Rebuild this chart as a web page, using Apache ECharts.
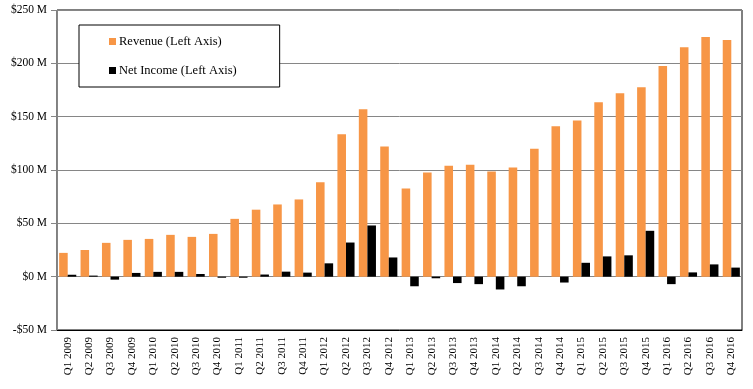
<!DOCTYPE html>
<html><head><meta charset="utf-8">
<script src="https://cdn.jsdelivr.net/npm/echarts@6/dist/echarts.min.js"></script>
<style>html,body{margin:0;padding:0;background:#fff}#c{width:753px;height:389px}</style>
</head><body><div id="c"></div>
<script>
var categories = ['Q1 2009','Q2 2009','Q3 2009','Q4 2009','Q1 2010','Q2 2010','Q3 2010','Q4 2010',
  'Q1 2011','Q2 2011','Q3 2011','Q4 2011','Q1 2012','Q2 2012','Q3 2012','Q4 2012',
  'Q1 2013','Q2 2013','Q3 2013','Q4 2013','Q1 2014','Q2 2014','Q3 2014','Q4 2014',
  'Q1 2015','Q2 2015','Q3 2015','Q4 2015','Q1 2016','Q2 2016','Q3 2016','Q4 2016'];
var revenue = [22.3,25,31.7,34.5,35.4,39.2,37.3,40.1,
  54.2,62.8,67.7,72.4,88.4,133.5,157,122,
  82.7,97.7,104,105,98.6,102.4,120,141,
  146.5,163.5,172,177.6,197.4,215,224.6,221.8];
var netIncome = [1.8,1,-2.8,3.5,4.5,4.5,2.5,-1,
  -1,2,4.7,3.8,12.5,32,48,18,
  -9,-1.5,-6,-7,-12,-9,0,-5.5,
  13,19,20,43,-7,4,11.5,8.5];
var yTicks = {min:-50, max:250, interval:50};

var font = "'Liberation Serif', 'DejaVu Serif', serif";
var chart = echarts.init(document.getElementById('c'));
chart.setOption({
  animation:false,
  textStyle:{fontFamily:font},
  grid:{left:57,right:11,top:10,bottom:59,show:true,borderColor:'#000',borderWidth:1,backgroundColor:'transparent'},
  legend:{
    orient:'vertical', left:79, top:25,
    padding:[10,43,10,30],
    borderColor:'#000', borderWidth:1, backgroundColor:'#fff',
    itemWidth:7, itemHeight:7, itemGap:16,
    textStyle:{fontFamily:font,fontSize:12.5,color:'#000',padding:[0,0,0,-2]},
    data:[{name:'Revenue (Left Axis)',icon:'rect'},{name:'Net Income (Left Axis)',icon:'rect'}]
  },
  xAxis:{
    type:'category', data:categories,
    axisLine:{onZero:false,lineStyle:{color:'#000',width:1}},
    axisTick:{show:false},
    axisLabel:{rotate:90,interval:0,fontFamily:font,fontSize:11,color:'#000',margin:7}
  },
  yAxis:{
    type:'value', min:yTicks.min, max:yTicks.max, interval:yTicks.interval,
    axisLine:{show:true,lineStyle:{color:'#868686'}},
    axisTick:{show:true,length:6,lineStyle:{color:'#868686'}},
    splitLine:{lineStyle:{color:'#868686'}},
    axisLabel:{fontFamily:font,fontSize:11.5,color:'#000',margin:10,
      formatter:function(v){return (v<0?'-$'+(-v):'$'+v)+' M';}}
  },
  series:[
    {name:'Revenue (Left Axis)',type:'bar',data:revenue,itemStyle:{color:'#F79646'},barGap:'0%',barCategoryGap:'20%'},
    {name:'Net Income (Left Axis)',type:'bar',data:netIncome,itemStyle:{color:'#000'}}
  ]
});
</script></body></html>
